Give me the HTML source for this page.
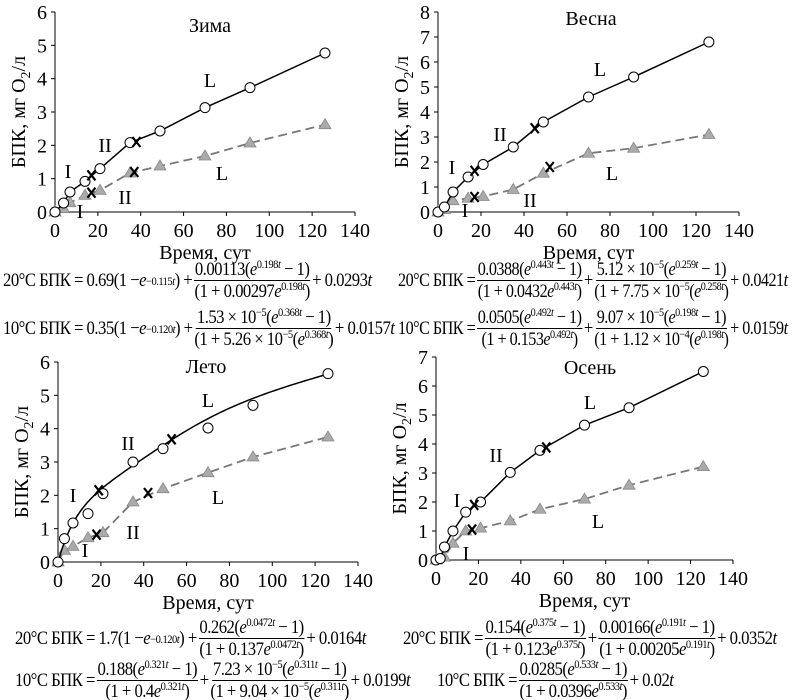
<!DOCTYPE html>
<html><head><meta charset="utf-8">
<style>
body{margin:0;background:#fff;}
#w{position:relative;width:798px;height:700px;overflow:hidden;font-family:"Liberation Serif",serif;}
svg{position:absolute;left:0;top:0;}
.eq{position:absolute;display:flex;align-items:center;font-family:"Liberation Serif",serif;font-size:19px;white-space:nowrap;letter-spacing:-0.6px;transform-origin:left center;transform:scaleX(0.88);}
.fr{display:inline-flex;flex-direction:column;align-items:center;margin:0 2px;line-height:21px;}
.fr .n{border-bottom:1.3px solid #000;padding:0 1px;}
sup{font-size:12px;line-height:0;vertical-align:7px;}
i{font-style:italic;}
</style></head><body><div id="w">
<svg id="s" width="798" height="700" xmlns="http://www.w3.org/2000/svg" font-family="Liberation Serif, serif"></svg>

<div class="eq" style="left:3px;top:259px;">20°C БПК = 0.69(1 − <i>e</i><sup>−0.115<i>t</i></sup>) +<span class="fr"><span class="n">0.00113(<i>e</i><sup>0.198<i>t</i></sup> − 1)</span><span>(1 + 0.00297<i>e</i><sup>0.198<i>t</i></sup>)</span></span>+ 0.0293<i>t</i></div>
<div class="eq" style="left:3px;top:307px;">10°C БПК = 0.35(1 − <i>e</i><sup>−0.120<i>t</i></sup>) +<span class="fr"><span class="n">1.53 × 10<sup>−5</sup>(<i>e</i><sup>0.368<i>t</i></sup> − 1)</span><span>(1 + 5.26 × 10<sup>−5</sup>(<i>e</i><sup>0.368<i>t</i></sup>)</span></span>+ 0.0157<i>t</i></div>
<div class="eq" style="left:398px;top:259px;transform:scaleX(0.85)">20°C БПК =<span class="fr"><span class="n">0.0388(<i>e</i><sup>0.443<i>t</i></sup> − 1)</span><span>(1 + 0.0432<i>e</i><sup>0.443<i>t</i></sup>)</span></span>+<span class="fr"><span class="n">5.12 × 10<sup>−5</sup>(<i>e</i><sup>0.259<i>t</i></sup> − 1)</span><span>(1 + 7.75 × 10<sup>−5</sup>(<i>e</i><sup>0.258<i>t</i></sup>)</span></span>+ 0.0421<i>t</i></div>
<div class="eq" style="left:398px;top:307px;transform:scaleX(0.85)">10°C БПК =<span class="fr"><span class="n">0.0505(<i>e</i><sup>0.492<i>t</i></sup> − 1)</span><span>(1 + 0.153<i>e</i><sup>0.492<i>t</i></sup>)</span></span>+<span class="fr"><span class="n">9.07 × 10<sup>−5</sup>(<i>e</i><sup>0.198<i>t</i></sup> − 1)</span><span>(1 + 1.12 × 10<sup>−4</sup>(<i>e</i><sup>0.198<i>t</i></sup>)</span></span>+ 0.0159<i>t</i></div>

<div class="eq" style="left:15px;top:617px;">20°C БПК = 1.7(1 − <i>e</i><sup>−0.120<i>t</i></sup>) +<span class="fr"><span class="n">0.262(<i>e</i><sup>0.0472<i>t</i></sup> − 1)</span><span>(1 + 0.137<i>e</i><sup>0.0472<i>t</i></sup>)</span></span>+ 0.0164<i>t</i></div>
<div class="eq" style="left:15px;top:659px;">10°C БПК =<span class="fr"><span class="n">0.188(<i>e</i><sup>0.321<i>t</i></sup> − 1)</span><span>(1 + 0.4<i>e</i><sup>0.321<i>t</i></sup>)</span></span>+<span class="fr"><span class="n">7.23 × 10<sup>−5</sup>(<i>e</i><sup>0.311<i>t</i></sup> − 1)</span><span>(1 + 9.04 × 10<sup>−5</sup>(<i>e</i><sup>0.311<i>t</i></sup>)</span></span>+ 0.0199<i>t</i></div>
<div class="eq" style="left:403px;top:617px;">20°C БПК =<span class="fr"><span class="n">0.154(<i>e</i><sup>0.375<i>t</i></sup> − 1)</span><span>(1 + 0.123<i>e</i><sup>0.375<i>t</i></sup>)</span></span>+<span class="fr"><span class="n">0.00166(<i>e</i><sup>0.191<i>t</i></sup> − 1)</span><span>(1 + 0.00205<i>e</i><sup>0.191<i>t</i></sup>)</span></span>+ 0.0352<i>t</i></div>
<div class="eq" style="left:437px;top:659px;">10°C БПК =<span class="fr"><span class="n">0.0285(<i>e</i><sup>0.533<i>t</i></sup> − 1)</span><span>(1 + 0.0396<i>e</i><sup>0.533<i>t</i></sup>)</span></span>+ 0.02<i>t</i></div>
</div>
<script>
const S=document.getElementById('s');let h='';
function panel(p){
 const X=t=>p.x0+(p.x1-p.x0)*t/140, Y=v=>p.y0-(p.y0-p.y1)*v/p.ymax;
 h+=`<line x1="${p.x0}" y1="${p.y1}" x2="${p.x0}" y2="${p.y0}" stroke="#000" stroke-width="1"/>`;
 h+=`<line x1="${p.x0}" y1="${p.y0}" x2="${p.x1}" y2="${p.y0}" stroke="#000" stroke-width="1"/>`;
 for(let t=0;t<=140;t+=20){h+=`<line x1="${X(t)}" y1="${p.y0}" x2="${X(t)}" y2="${p.y0+4}" stroke="#000"/>`;
  h+=`<text x="${X(t)}" y="${p.y0+25}" font-size="20" text-anchor="middle">${t}</text>`;}
 for(let v=0;v<=p.ymax;v++){h+=`<line x1="${p.x0-4}" y1="${Y(v)}" x2="${p.x0}" y2="${Y(v)}" stroke="#000"/>`;
  h+=`<text x="${p.x0-8}" y="${Y(v)+7}" font-size="20" text-anchor="end">${v}</text>`;}
 h+=`<text x="${(p.x0+p.x1)/2}" y="${p.y0+47}" font-size="20" text-anchor="middle">Время, сут</text>`;
 const cy=(p.y0+p.y1)/2, lx=p.x0-30;
 h+=`<text transform="translate(${lx},${cy}) rotate(-90)" font-size="20" text-anchor="middle">БПК, мг O<tspan font-size="14" dy="5">2</tspan><tspan dy="-5">/л</tspan></text>`;
 h+=`<polyline fill="none" stroke="#777" stroke-width="1.8" stroke-dasharray="9,5" points="${p.b.map(d=>X(d[0])+','+Y(d[1])).join(' ')}"/>`;
 p.b.forEach(d=>{const x=X(d[0]),y=Y(d[1]);h+=`<polygon points="${x},${y-6} ${x-6},${y+4} ${x+6},${y+4}" fill="#aaa" stroke="#888" stroke-width="0.8"/>`;});
 let pts=p.curve?p.curve.map(d=>X(d[0])+','+Y(d[1])).join(' '):p.a.map(d=>X(d[0])+','+Y(d[1])).join(' ');
 h+=`<polyline fill="none" stroke="#000" stroke-width="1.5" points="${pts}"/>`;
 p.a.forEach(d=>{h+=`<circle cx="${X(d[0])}" cy="${Y(d[1])}" r="5" fill="#fff" stroke="#000" stroke-width="1"/>`;});
 p.x.forEach(d=>{const x=X(d[0]),y=Y(d[1]);h+=`<path d="M${x-4},${y-5}L${x+4},${y+5}M${x+4},${y-5}L${x-4},${y+5}" stroke="#000" stroke-width="2.2"/>`;});
 p.l.forEach(l=>{h+=`<text x="${l[1]}" y="${l[2]}" font-size="${l[3]||20}" text-anchor="middle">${l[0]}</text>`;});
}
panel({x0:55,x1:355,y0:212,y1:12,ymax:6,
 a:[[0,0],[4,0.27],[7,0.6],[14,0.92],[21,1.3],[35,2.08],[49,2.43],[70,3.13],[91,3.73],[126,4.77]],
 b:[[0,0],[4,0.1],[7,0.28],[14,0.5],[21,0.65],[35,1.17],[49,1.38],[70,1.68],[91,2.07],[126,2.62]],
 x:[[17,1.1],[38,2.1],[17,0.58],[37,1.2]],
 l:[['Зима',210,32],['L',210,87],['II',105,152],['I',68,178],['L',222,180],['II',125,204],['I',80,218]]});
panel({x0:438,x1:739,y0:212,y1:12,ymax:8,
 a:[[0,0],[3,0.2],[7,0.8],[14,1.4],[21,1.9],[35,2.6],[49,3.6],[70,4.6],[91,5.4],[126,6.8]],
 b:[[0,0],[3,0.1],[7,0.45],[14,0.55],[21,0.62],[35,0.9],[49,1.55],[70,2.35],[91,2.55],[126,3.1]],
 x:[[17,1.65],[45,3.35],[17,0.6],[52,1.8]],
 l:[['Весна',591,25],['L',600,76],['II',500,141],['I',452,174],['L',612,180],['II',530,207],['I',465,217]]});
let cv=[];for(let t=0;t<=126;t+=1){const e=Math.exp(0.0472*t);cv.push([t,1.7*(1-Math.exp(-0.12*t))+0.262*(e-1)/(1+0.137*e)+0.0164*t]);}
panel({x0:58,x1:358,y0:562,y1:362,ymax:6,curve:cv,
 a:[[0,0],[3,0.7],[7,1.17],[14,1.45],[21,2.05],[35,3],[49,3.4],[70,4.02],[91,4.7],[126,5.65]],
 b:[[0,0],[3,0.35],[7,0.47],[14,0.73],[21,0.88],[35,1.8],[49,2.2],[70,2.68],[91,3.15],[126,3.75]],
 x:[[19,2.15],[53,3.68],[18,0.82],[42,2.07]],
 l:[['Лето',206,373],['L',208,407],['II',128,450],['I',73,502],['L',218,504],['II',133,539],['I',85,557]]});
panel({x0:436,x1:733,y0:560,y1:357,ymax:7,
 a:[[0,0],[2,0.05],[4,0.45],[8,1],[14,1.65],[21,2],[35,3.02],[49,3.78],[70,4.65],[91,5.25],[126,6.5]],
 b:[[0,0],[4,0.1],[8,0.58],[14,1],[21,1.1],[35,1.35],[49,1.75],[70,2.1],[91,2.58],[126,3.22]],
 x:[[18,1.9],[52,3.88],[17,1.05]],
 l:[['Осень',590,374],['L',590,409],['II',496,462],['I',457,507],['L',598,528],['I',466,560]]});
S.innerHTML=h;
</script>
</body></html>
